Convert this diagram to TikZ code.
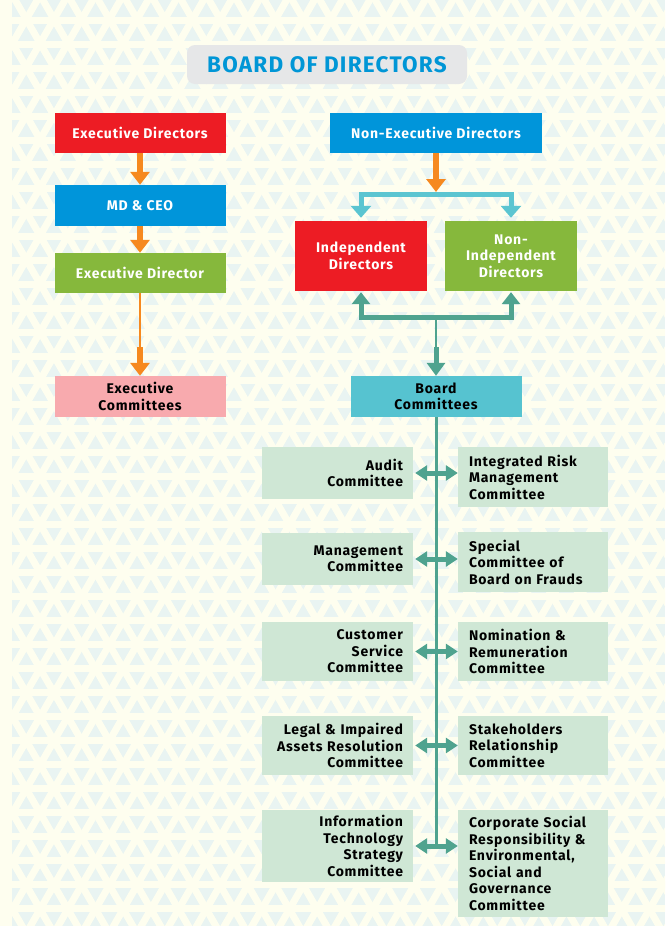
\documentclass[tikz,border=0pt]{standalone}
\usepackage{fontspec}
\setmainfont{Fira Sans}[LetterSpace=5.5]
\usetikzlibrary{arrows.meta}
\definecolor{bgcream}{HTML}{FEFEEF}
\definecolor{bgblue}{HTML}{E9F4F2}
\definecolor{titlegray}{HTML}{E6E7E8}
\definecolor{titleblue}{HTML}{0096D6}
\definecolor{boxred}{HTML}{ED1C24}
\definecolor{boxblue}{HTML}{0095DA}
\definecolor{boxgreen}{HTML}{86B83C}
\definecolor{boxpink}{HTML}{F8AAAE}
\definecolor{boxcyan}{HTML}{56C3D0}
\definecolor{comgreen}{HTML}{CFE7D5}
\definecolor{arrorange}{HTML}{F6891F}
\definecolor{arrcyan}{HTML}{5BC5D1}
\definecolor{arrteal}{HTML}{4FA38F}
\begin{document}
\begin{tikzpicture}[x=1pt,y=-1pt,
    txt/.style={font=\fontsize{14}{16.5}\selectfont\bfseries},
    box/.style={txt,minimum width=171pt,minimum height=40pt,inner sep=2pt,align=center,text=white},
    lcom/.style={txt,fill=comgreen,text width=131pt,inner xsep=10pt,align=right},
    rcom/.style={txt,fill=comgreen,text width=128pt,inner xsep=11pt,align=left},
    fat/.style={line width=6pt,-{Triangle[width=19pt,length=13pt]}},
    slim/.style={line width=2.5pt},
    twoway/.style={arrteal,line width=5pt,{Triangle[width=15pt,length=12pt]}-{Triangle[width=15pt,length=12pt]}}]
  % background lattice
  \fill[bgblue] (0,0) rectangle (665,926);
  \begin{scope}
    \clip (0,0) rectangle (665,926);
    \foreach \y in {20,44,...,940}
      \draw[bgcream,line width=7pt] (-10,\y) -- (680,\y);
    \foreach \x in {-600,-572.3,...,700}
      \draw[bgcream,line width=7pt] (\x,-10) -- (\x+547,940) (\x+560,-10) -- (\x+13,940);
    \fill[bgcream] (0,0) rectangle (12,926);
  \end{scope}
  \useasboundingbox (0,0) rectangle (665,926);
  % title
  \node[fill=titlegray,rounded corners=8pt,minimum width=280pt,minimum height=39pt,text=titleblue,font=\fontsize{22.5}{26}\selectfont\bfseries] (board) at (327,64.5) {BOARD OF DIRECTORS};
  % executive side
  \node[box,fill=boxred] (execdirs) at (140,133) {Executive Directors};
  \node[box,fill=boxblue,minimum height=41pt] (mdceo) at (140,205.5) {MD \& CEO};
  \node[box,fill=boxgreen] (execdir) at (140,273) {Executive Director};
  \node[box,fill=boxpink,text=black,minimum height=41pt] (execcom) at (140,396.5) {Executive\\Committees};
  \coordinate (execmid) at (140,347);
  \draw[fat,arrorange] (execdirs.south) -- (mdceo.north);
  \draw[fat,arrorange] (mdceo.south) -- (execdir.north);
  \draw[slim,arrorange] (execdir.south) -- (execmid);
  \draw[fat,arrorange] (execmid) -- (execcom.north);
  % non-executive side
  \node[box,fill=boxblue,minimum width=212pt] (nonexec) at (436,133) {Non-Executive Directors};
  \node[box,fill=boxred,minimum width=132pt,minimum height=70pt] (indep) at (361,256) {Independent\\Directors};
  \node[box,fill=boxgreen,minimum width=132pt,minimum height=70pt] (nonindep) at (511,256) {Non-\\Independent\\Directors};
  \node[box,fill=boxcyan,text=black,minimum height=41pt] (boardcom) at (436,396.5) {Board\\Committees};
  \coordinate (split) at (436,194.5);
  \coordinate (join) at (436,317.5);
  \coordinate (boardmid) at (436,347);
  \draw[fat,arrorange,shorten >=2.5pt] (nonexec.south) -- (split);
  \draw[arrcyan,line width=5pt,{Triangle[width=20pt,length=12pt]}-{Triangle[width=20pt,length=12pt]},shorten <=3pt,shorten >=3pt] (indep.north) |- (split) -| (nonindep.north);
  \draw[arrteal,line width=5pt,{Triangle[width=18pt,length=12pt]}-{Triangle[width=18pt,length=12pt]},shorten <=1pt,shorten >=1pt] (indep.south) |- (join) -| (nonindep.south);
  \draw[slim,arrteal] (join) -- (boardmid);
  \draw[fat,arrteal,line width=5pt,-{Triangle[width=18pt,length=13pt]}] (boardmid) -- (boardcom.north);
  % board committees
  \node[lcom,minimum height=52pt] (audit) at (337.5,473) {Audit\\Committee};
  \node[rcom,minimum height=60pt] (risk) at (533,477) {Integrated Risk\\Management\\Committee};
  \node[lcom,minimum height=52pt] (mgmt) at (337.5,559) {Management\\Committee};
  \node[rcom,minimum height=60pt] (frauds) at (533,562) {Special\\Committee of\\Board on Frauds};
  \node[lcom,minimum height=59pt] (custsvc) at (337.5,651.5) {Customer\\Service\\Committee};
  \node[rcom,minimum height=59pt] (nomrem) at (533,651.5) {Nomination \&\\Remuneration\\Committee};
  \node[lcom,minimum height=59pt] (legal) at (337.5,745.5) {Legal \& Impaired\\Assets Resolution\\Committee};
  \node[rcom,minimum height=59pt] (stake) at (533,745.5) {Stakeholders\\Relationship\\Committee};
  \node[lcom,minimum height=72pt] (itstrat) at (337.5,846) {Information\\Technology\\Strategy\\Committee};
  \node[rcom,minimum height=107pt] (csr) at (533,863.5) {Corporate Social\\Responsibility \&\\Environmental,\\Social and\\Governance\\Committee};
  \draw[arrteal,line width=3pt] (boardcom.south) -- (boardcom.south |- itstrat.east);
  \foreach \l/\r in {audit/risk,mgmt/frauds,custsvc/nomrem,legal/stake,itstrat/csr}
    \draw[twoway,shorten <=2pt] (\l.east) -- (\l.east -| \r.west);
\end{tikzpicture}
\end{document}
